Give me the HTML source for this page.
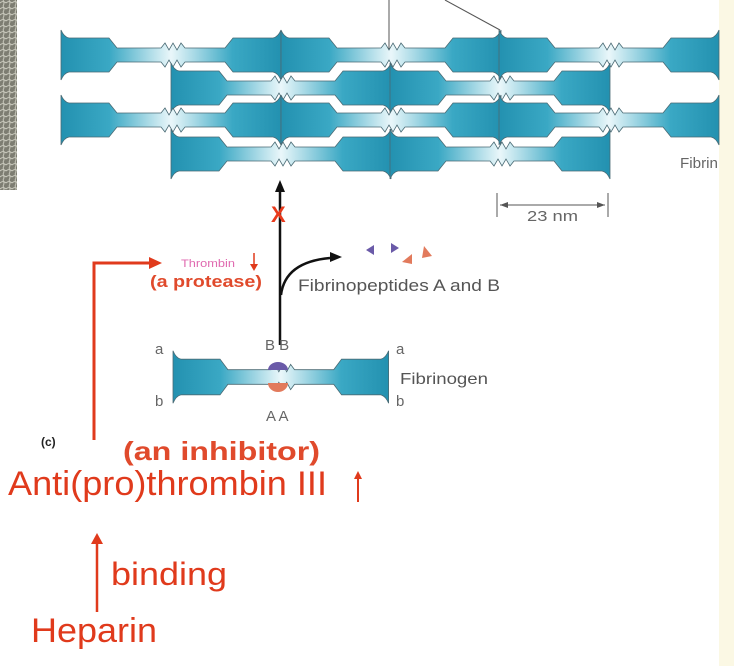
<!DOCTYPE html>
<html><head><style>
html,body{margin:0;padding:0;background:#fff;}
body{width:734px;height:666px;overflow:hidden;position:relative;font-family:"Liberation Sans",sans-serif;}
</style></head><body>
<svg width="734" height="666" viewBox="0 0 734 666" xmlns="http://www.w3.org/2000/svg" style="position:absolute;left:0;top:0">
<defs>
<linearGradient id="g" x1="0" x2="220" y1="0" y2="0" gradientUnits="userSpaceOnUse">
<stop offset="0" stop-color="#2391b0"/>
<stop offset="0.22" stop-color="#3aa8c4"/>
<stop offset="0.5" stop-color="#eaf7fa"/>
<stop offset="0.78" stop-color="#3aa8c4"/>
<stop offset="1" stop-color="#2391b0"/>
</linearGradient>
<path id="m" d="M0,-25 Q3,-18 8,-17 L48,-17 L56,-7 L100,-7 L104,-12 L108,-5 L112,-12 L116,-5 L120,-12 L124,-7 L164,-7 L172,-17 L212,-17 Q217,-18 220,-25 L220,25 Q217,18 212,17 L172,17 L164,7 L124,7 L120,12 L116,5 L112,12 L108,5 L104,12 L100,7 L56,7 L48,17 L8,17 Q3,18 0,25 Z" fill="url(#g)" stroke="#4a6a74" stroke-width="0.8"/>
<pattern id="tex" width="6" height="6" patternUnits="userSpaceOnUse"><rect width="6" height="6" fill="#7d7d72"/><path d="M0,3 Q3,0 6,3 M3,6 Q5,3 3,0" stroke="#c8c8bc" fill="none" stroke-width="1"/></pattern>
</defs>
<rect x="0" y="0" width="17" height="190" fill="url(#tex)"/>
<rect x="719" y="0" width="15" height="666" fill="#fbf8e4"/>
<line x1="389" y1="0" x2="389" y2="50" stroke="#555" stroke-width="1"/>
<line x1="445" y1="0" x2="500" y2="30" stroke="#555" stroke-width="1"/>
<use href="#m" x="61" y="55"/><use href="#m" x="281" y="55"/><use href="#m" x="499" y="55"/>
<use href="#m" x="171" y="88"/><use href="#m" x="390" y="88"/>
<use href="#m" x="61" y="120"/><use href="#m" x="281" y="120"/><use href="#m" x="499" y="120"/>
<use href="#m" x="171" y="154"/><use href="#m" x="390" y="154"/>
<text x="680" y="168" font-size="15" fill="#666" textLength="38" lengthAdjust="spacingAndGlyphs">Fibrin</text>
<line x1="497" y1="193" x2="497" y2="217" stroke="#555"/><line x1="608" y1="193" x2="608" y2="217" stroke="#555"/>
<line x1="500" y1="205" x2="605" y2="205" stroke="#555"/>
<path d="M500,205 l8,-3 v6z M605,205 l-8,-3 v6z" fill="#555"/>
<text x="527" y="221" font-size="15" fill="#666" textLength="51" lengthAdjust="spacingAndGlyphs">23 nm</text>
<line x1="280" y1="345" x2="280" y2="188" stroke="#111" stroke-width="2.5"/>
<path d="M280,180 l-5,12 h10z" fill="#111"/>
<text x="271" y="222" font-size="22" font-weight="bold" fill="#e83a1c">X</text>
<path d="M281,295 Q285,262 330,258" stroke="#111" stroke-width="2.5" fill="none"/>
<path d="M342,257 l-12,-5 v10z" fill="#111"/>
<path d="M366,250 l8,-5 v10z" fill="#6a5aa8"/><path d="M391,243 l8,5 -8,5z" fill="#6a5aa8"/>
<path d="M424,246 l8,10 -10,2z" fill="#e27a5c"/><path d="M402,262 l10,-8 0,10z" fill="#e27a5c"/>
<text x="181" y="267" font-size="11" fill="#e06ab0" textLength="54" lengthAdjust="spacingAndGlyphs">Thrombin</text>
<line x1="254" y1="253" x2="254" y2="268" stroke="#e03a1c" stroke-width="1.5"/>
<path d="M254,271 l-4,-7 h8z" fill="#e03a1c"/>
<text x="150" y="287" font-size="17" font-weight="bold" fill="#e04a2c" textLength="112" lengthAdjust="spacingAndGlyphs">(a protease)</text>
<text x="298" y="291" font-size="17" fill="#555" textLength="202" lengthAdjust="spacingAndGlyphs">Fibrinopeptides A and B</text>
<use href="#m" x="173" y="377" transform="translate(173,377) scale(0.98,1.05) translate(-173,-377)"/>
<path d="M268,370 a10,8 0 0 1 20,0z" fill="#6a5aa8"/>
<path d="M268,383 a10,9 0 0 0 20,0z" fill="#e27a5c"/>
<text x="155" y="354" font-size="15" fill="#666">a</text><text x="155" y="406" font-size="15" fill="#666">b</text>
<text x="396" y="354" font-size="15" fill="#666">a</text><text x="396" y="406" font-size="15" fill="#666">b</text>
<text x="265" y="350" font-size="15" fill="#666">B B</text><text x="266" y="421" font-size="15" fill="#666">A A</text>
<text x="400" y="384" font-size="16" fill="#555" textLength="88" lengthAdjust="spacingAndGlyphs">Fibrinogen</text>
<path d="M94,440 V263 H150" stroke="#e03a1c" stroke-width="3" fill="none"/>
<path d="M162,263 l-13,-6 v12z" fill="#e03a1c"/>
<text x="41" y="446" font-size="12" font-weight="bold" fill="#222">(c)</text>
<text x="123" y="460" font-size="26" font-weight="bold" fill="#e04a2c" textLength="197" lengthAdjust="spacingAndGlyphs">(an inhibitor)</text>
<text x="8" y="495" font-size="34" fill="#e03a1c" textLength="319" lengthAdjust="spacingAndGlyphs">Anti(pro)thrombin III</text>
<line x1="358" y1="502" x2="358" y2="476" stroke="#e03a1c" stroke-width="2"/>
<path d="M358,471 l-4,8 h8z" fill="#e03a1c"/>
<line x1="97" y1="612" x2="97" y2="540" stroke="#e03a1c" stroke-width="2.5"/>
<path d="M97,533 l-6,11 h12z" fill="#e03a1c"/>
<text x="111" y="585" font-size="32" fill="#e03a1c" textLength="116" lengthAdjust="spacingAndGlyphs">binding</text>
<text x="31" y="642" font-size="34" fill="#e03a1c" textLength="126" lengthAdjust="spacingAndGlyphs">Heparin</text>
</svg>
</body></html>
